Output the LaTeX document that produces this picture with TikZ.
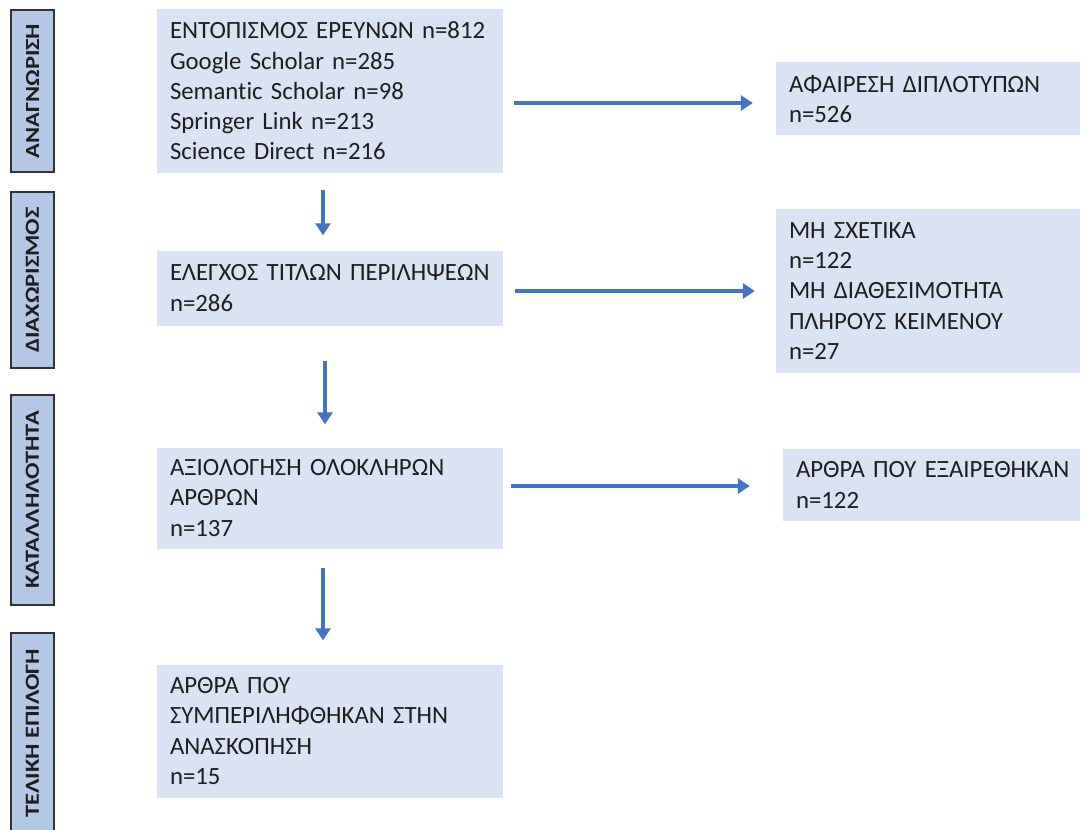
\documentclass[tikz,border=0pt]{standalone}
\usepackage{fontspec}
\setmainfont{Carlito}[Ligatures=NoCommon, WordSpace=0.8]
\newfontfamily\labfont{Carlito}[Ligatures=NoCommon, FakeStretch=1.22]
\usetikzlibrary{arrows.meta}
\definecolor{boxfill}{HTML}{DAE3F3}
\definecolor{labfill}{HTML}{B4C7E7}
\definecolor{arrblue}{HTML}{4472C4}
\definecolor{txt}{HTML}{1E1E1E}
\tikzset{
  mainbox/.style={fill=boxfill, draw=none, inner xsep=13pt, inner ysep=0pt,
    align=left, text=txt, font=\fontsize{24.8}{30.3}\selectfont},
  lab/.style={fill=labfill, draw=black!80, line width=1.3pt, rotate=90,
    minimum height=43pt, inner sep=0pt, text=txt,
    font=\labfont\bfseries\fontsize{20}{22}\selectfont},
  arr/.style={draw=arrblue, line width=3.6pt,
    -{Triangle[length=12pt,width=15pt]}},
}
\begin{document}
\begin{tikzpicture}[x=1pt,y=-1pt]
\useasboundingbox[fill=white] (0,0) rectangle (1083,829);
% stage labels
\node[lab, minimum width=162pt] (l1) at (32.5,91) {ΑΝΑΓΝΩΡΙΣΗ};
\node[lab, minimum width=176pt] (l2) at (32.5,280) {ΔΙΑΧΩΡΙΣΜΟΣ};
\node[lab, minimum width=210pt] (l3) at (32.5,500) {ΚΑΤΑΛΛΗΛΟΤΗΤΑ};
\node[lab, minimum width=200pt] (l4) at (32.5,733) {ΤΕΛΙΚΗ ΕΠΙΛΟΓΗ};
% main boxes
\node[mainbox, minimum width=346pt, text width=320pt, minimum height=164pt] (b1) at (330,91)
  {ΕΝΤΟΠΙΣΜΟΣ ΕΡΕΥΝΩΝ n=812\\Google Scholar n=285\\Semantic Scholar n=98\\Springer Link n=213\\Science Direct n=216};
\node[mainbox, minimum width=346pt, text width=320pt, minimum height=75pt] (b2) at (330,288)
  {ΕΛΕΓΧΟΣ ΤΙΤΛΩΝ ΠΕΡΙΛΗΨΕΩΝ\\n=286};
\node[mainbox, minimum width=346pt, text width=320pt, minimum height=101pt] (b3) at (330,498)
  {ΑΞΙΟΛΟΓΗΣΗ ΟΛΟΚΛΗΡΩΝ\\ΑΡΘΡΩΝ\\n=137};
\node[mainbox, minimum width=346pt, text width=320pt, minimum height=133pt] (b4) at (330,731)
  {ΑΡΘΡΑ ΠΟΥ\\ΣΥΜΠΕΡΙΛΗΦΘΗΚΑΝ ΣΤΗΝ\\ΑΝΑΣΚΟΠΗΣΗ\\n=15};
% right boxes
\node[mainbox, minimum width=304pt, text width=278pt, minimum height=73pt] (r1) at (928,99)
  {ΑΦΑΙΡΕΣΗ ΔΙΠΛΟΤΥΠΩΝ\\n=526};
\node[mainbox, minimum width=304pt, text width=278pt, minimum height=164pt] (r2) at (928,291)
  {ΜΗ ΣΧΕΤΙΚΑ\\n=122\\ΜΗ ΔΙΑΘΕΣΙΜΟΤΗΤΑ\\ΠΛΗΡΟΥΣ ΚΕΙΜΕΝΟΥ\\n=27};
\node[mainbox, minimum width=297pt, text width=271pt, minimum height=72pt] (r3) at (931.5,485)
  {\rlap{ΑΡΘΡΑ ΠΟΥ ΕΞΑΙΡΕΘΗΚΑΝ}\\n=122};
% horizontal arrows
\draw[arr, shorten <=11pt, shorten >=23pt] ([yshift=-4pt]b1.east |- r1.west) -- ([yshift=-4pt]r1.west);
\draw[arr, shorten <=12pt, shorten >=21pt] (b2.east |- r2.west) -- (r2.west);
\draw[arr, shorten <=8pt, shorten >=33pt] ([yshift=-1pt]b3.east |- r3.west) -- ([yshift=-1pt]r3.west);
% vertical arrows
\draw[arr, shorten <=17pt, shorten >=15pt] ([xshift=-7pt]b1.south) -- ([xshift=-7pt]b2.north);
\draw[arr, shorten <=35pt, shorten >=23pt] ([xshift=-5pt]b2.south) -- ([xshift=-5pt]b3.north);
\draw[arr, shorten <=19pt, shorten >=24pt] ([xshift=-7pt]b3.south) -- ([xshift=-7pt]b4.north);
\end{tikzpicture}
\end{document}
